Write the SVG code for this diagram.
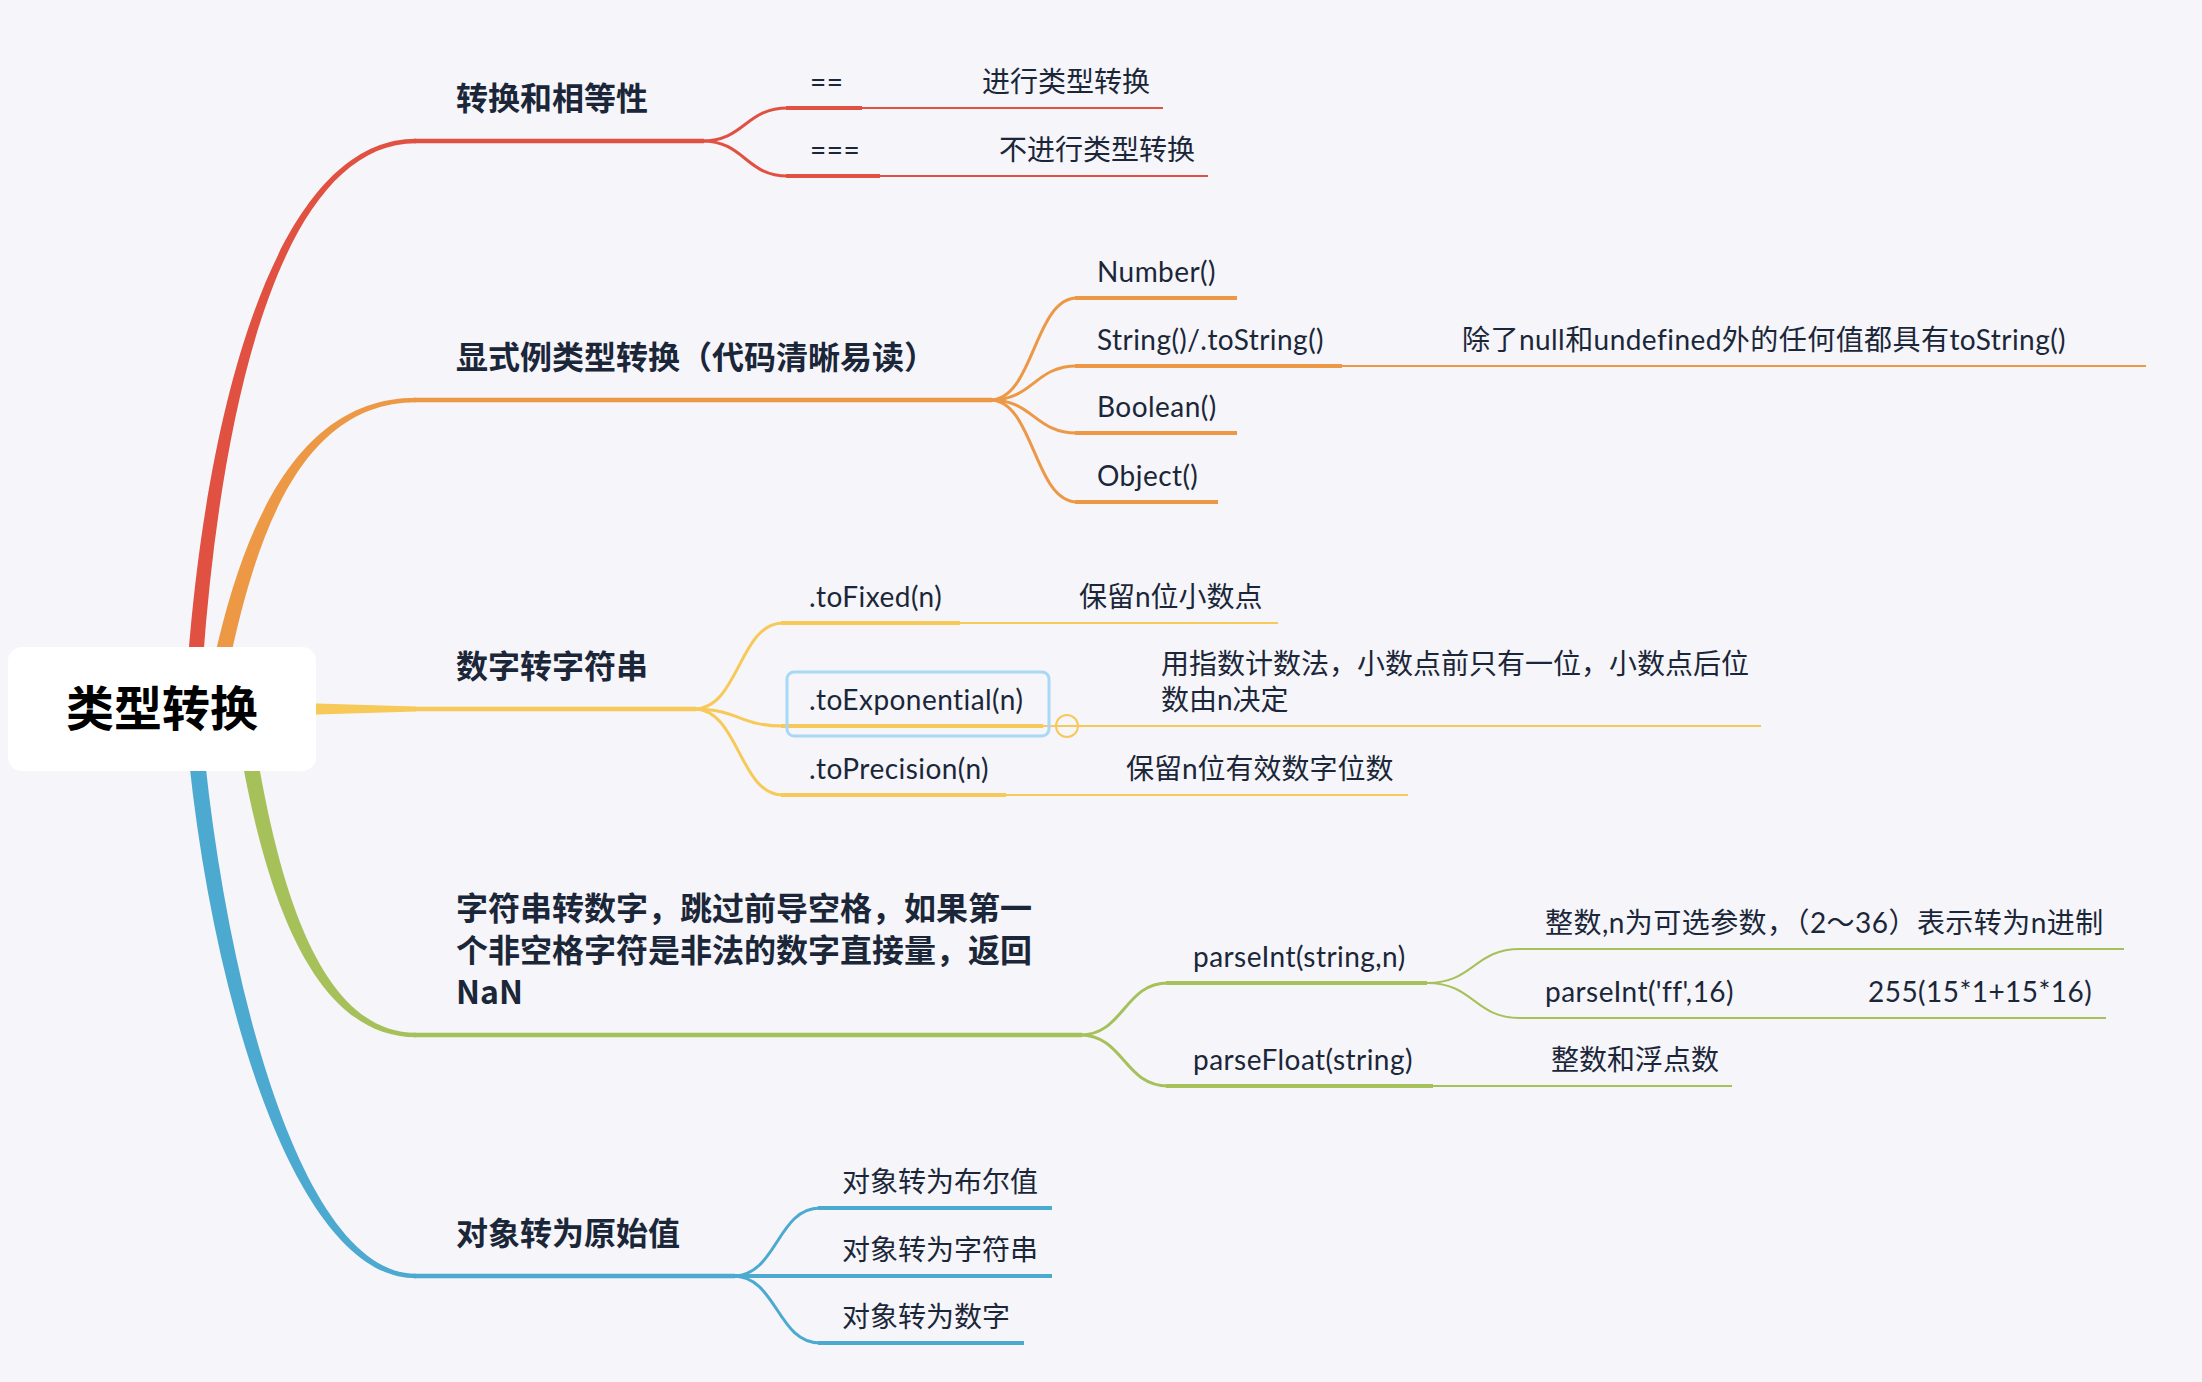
<svg xmlns="http://www.w3.org/2000/svg" width="2202" height="1382" viewBox="0 0 2202 1382">
<style>
.bg{fill:#F5F5FA}
.t{font-family:Lato,"Noto Sans CJK SC",sans-serif;font-size:28px;letter-spacing:0.45px;fill:#1B2738}
.z{letter-spacing:0}
.m{font-family:"Noto Sans CJK SC",Lato,sans-serif;font-size:32px;font-weight:700;fill:#1B2738}
.root{font-family:"Noto Sans CJK SC",sans-serif;font-size:48px;font-weight:700;fill:#000}
.ln{fill:none;stroke-linecap:butt}
.c{stroke-width:3}
.k{stroke-width:4.5}
.h{stroke-width:4}
.n{stroke-width:2}
.red{stroke:#E05141}.ored{fill:#E05141}
.org{stroke:#EC9845}.oorg{fill:#EC9845}
.yel{stroke:#F7C958}.oyel{fill:#F7C958}
.grn{stroke:#A7C15A}.ogrn{fill:#A7C15A}
.blu{stroke:#4CA9CF}.oblu{fill:#4CA9CF}
</style>
<rect class="bg" x="0" y="0" width="2202" height="1382"/>
<g id="connectors">
  <path class="ored" d="M188 660 C208 400 278 138.75 416 138.75 L416 143.25 C282 143.25 222 400 203 660 Z"/>
  <path class="oorg" d="M214 660 C243 528 297 397.75 416 397.75 L416 402.25 C303 402.25 257 532 230 660 Z"/>
  <path class="oyel" d="M300 703 L416 706.5 L416 711.5 L300 715 Z"/>
  <path class="ogrn" d="M242 760 C268 902 316 1037.25 416 1037.25 L416 1032.75 C324 1032.75 282 898 258 760 Z"/>
  <path class="oblu" d="M189 760 C214 1002 296 1278.25 416 1278.25 L416 1273.75 C304 1273.75 230 998 205 760 Z"/>
  <path class="ln k red" d="M414 141 H704"/>
  <path class="ln k org" d="M414 400 H992"/>
  <path class="ln k yel" d="M414 709 H696"/>
  <path class="ln k grn" d="M414 1035 H1082"/>
  <path class="ln k blu" d="M414 1276 H735"/>
  <path class="ln c red" d="M702 141 C745 141 745 108 788 108"/>
  <path class="ln c red" d="M702 141 C745 141 745 176 788 176"/>
  <path class="ln h red" d="M786 108 H862"/>
  <path class="ln n red" d="M862 108 H1163"/>
  <path class="ln h red" d="M786 176 H880"/>
  <path class="ln n red" d="M880 176 H1208"/>
  <path class="ln c org" d="M990 400 C1034 400 1034 298 1077 298"/>
  <path class="ln c org" d="M990 400 C1034 400 1034 366 1077 366"/>
  <path class="ln c org" d="M990 400 C1034 400 1034 433 1077 433"/>
  <path class="ln c org" d="M990 400 C1034 400 1034 502 1077 502"/>
  <path class="ln h org" d="M1075 298 H1237"/>
  <path class="ln h org" d="M1075 366 H1342"/>
  <path class="ln n org" d="M1342 366 H2146"/>
  <path class="ln h org" d="M1075 433 H1237"/>
  <path class="ln h org" d="M1075 502 H1218"/>
  <path class="ln c yel" d="M694 709 C739 709 739 623 783 623"/>
  <path class="ln c yel" d="M694 709 C739 709 739 726 783 726"/>
  <path class="ln c yel" d="M694 709 C739 709 739 795 783 795"/>
  <path class="ln h yel" d="M781 623 H960"/>
  <path class="ln n yel" d="M960 623 H1278"/>
  <path class="ln h yel" d="M781 726 H1043"/>
  <path class="ln n yel" d="M1043 726 H1761"/>
  <circle cx="1067" cy="726" r="11" fill="none" stroke="#F7C958" stroke-width="2"/>
  <path class="ln h yel" d="M781 795 H1006"/>
  <path class="ln n yel" d="M1006 795 H1408"/>
  <path class="ln c grn" d="M1080 1035 C1124 1035 1124 983 1168 983"/>
  <path class="ln c grn" d="M1080 1035 C1124 1035 1124 1086 1168 1086"/>
  <path class="ln h grn" d="M1166 983 H1427"/>
  <path class="ln h grn" d="M1166 1086 H1433"/>
  <path class="ln n grn" d="M1433 1086 H1732"/>
  <path class="ln n grn" d="M1427 983 C1474 983 1474 949 1520 949 H2124"/>
  <path class="ln n grn" d="M1427 983 C1474 983 1474 1018 1520 1018 H2106"/>
  <path class="ln c blu" d="M733 1276 C777 1276 777 1208 820 1208"/>
  <path class="ln c blu" d="M733 1276 C777 1276 777 1343 820 1343"/>
  <path class="ln h blu" d="M733 1276 H1052"/>
  <path class="ln h blu" d="M818 1208 H1052"/>
  <path class="ln h blu" d="M818 1343 H1024"/>
</g>
<g id="root">
  <rect x="8" y="647" width="308" height="124" rx="14" fill="#FFFFFF"/>
  <text class="root" x="162" y="726" text-anchor="middle">类型转换</text>
</g>
<g id="n-equality">
  <text class="m" x="456" y="110">转换和相等性</text>
</g>
<g id="n-eq2"><text class="t" x="810" y="92">==</text></g>
<g id="n-eq2-d"><text class="t z" x="982" y="92">进行类型转换</text></g>
<g id="n-eq3"><text class="t" x="810" y="160">===</text></g>
<g id="n-eq3-d"><text class="t z" x="999" y="160">不进行类型转换</text></g>
<g id="n-explicit">
  <text class="m" x="456" y="369">显式例类型转换（代码清晰易读）</text>
</g>
<g id="n-number"><text class="t" x="1097" y="282">Number()</text></g>
<g id="n-string"><text class="t" x="1097" y="350">String()/.toString()</text></g>
<g id="n-string-d"><text class="t" x="1462" y="350">除了null和undefined外的任何值都具有toString()</text></g>
<g id="n-boolean"><text class="t" x="1097" y="417">Boolean()</text></g>
<g id="n-object"><text class="t" x="1097" y="486">Object()</text></g>
<g id="n-num2str">
  <text class="m" x="456" y="678">数字转字符串</text>
</g>
<g id="n-tofixed"><text class="t" x="809" y="607">.toFixed(n)</text></g>
<g id="n-tofixed-d"><text class="t z" x="1079" y="607">保留n位小数点</text></g>
<g id="n-toexp">
  <rect x="787" y="672" width="262" height="64" rx="7" fill="none" stroke="#A9D7F6" stroke-width="3"/>
  <text class="t" x="809" y="710">.toExponential(n)</text>
</g>
<g id="n-toexp-d">
  <text class="t z" x="1161" y="674">用指数计数法，小数点前只有一位，小数点后位</text>
  <text class="t z" x="1161" y="710">数由n决定</text>
</g>
<g id="n-toprec"><text class="t" x="809" y="779">.toPrecision(n)</text></g>
<g id="n-toprec-d"><text class="t z" x="1126" y="779">保留n位有效数字位数</text></g>
<g id="n-str2num">
  <text class="m" x="456" y="920">字符串转数字，跳过前导空格，如果第一</text>
  <text class="m" x="456" y="962">个非空格字符是非法的数字直接量，返回</text>
  <text class="m" x="456" y="1004">NaN</text>
</g>
<g id="n-parseint"><text class="t" x="1193" y="967">parseInt(string,n)</text></g>
<g id="n-parseint-d1"><text class="t" x="1545" y="933">整数,n为可选参数，（2～36）表示转为n进制</text></g>
<g id="n-parseint-d2"><text class="t" x="1545" y="1002">parseInt('ff',16)</text></g>
<g id="n-parseint-d3"><text class="t" x="1868" y="1002">255(15*1+15*16)</text></g>
<g id="n-parsefloat"><text class="t" x="1193" y="1070">parseFloat(string)</text></g>
<g id="n-parsefloat-d"><text class="t z" x="1551" y="1070">整数和浮点数</text></g>
<g id="n-obj2prim">
  <text class="m" x="456" y="1245">对象转为原始值</text>
</g>
<g id="n-obj-bool"><text class="t z" x="842" y="1192">对象转为布尔值</text></g>
<g id="n-obj-str"><text class="t z" x="842" y="1260">对象转为字符串</text></g>
<g id="n-obj-num"><text class="t z" x="842" y="1327">对象转为数字</text></g>
</svg>
